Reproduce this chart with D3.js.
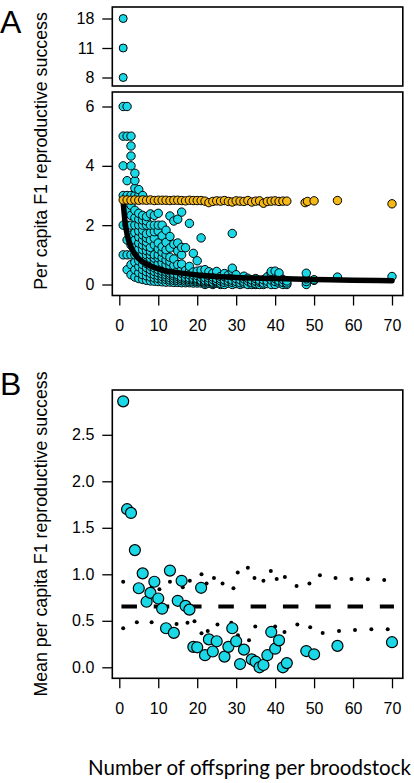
<!DOCTYPE html>
<html><head><meta charset="utf-8">
<script src="https://cdn.jsdelivr.net/npm/d3@7"></script>
<style>body{margin:0;background:#fff}svg{display:block}</style>
</head><body>
<svg id="c" width="414" height="783"></svg>
<script>
// ---------- DATA ----------
const xTicks = [0, 10, 20, 30, 40, 50, 60, 70];
const topTicks = [8, 11, 18];
const topX = [1, 1, 1];
const topY = [8, 11, 18];
const ticksA = [0, 2, 4, 6];
const ticksB = [0, 0.5, 1, 1.5, 2, 2.5];

// panel A cyan points: [offspring, list of per-capita success values]
const cyanA = [
  [1, [1, 2, 3, 4, 5, 6]],
  [2, [0.5, 1, 1.5, 2, 2.5, 3, 3.5, 5, 6]],
  [3, [0.33, 0.67, 1, 1.33, 1.67, 2, 2.33, 2.67, 3, 4, 4.33, 4.67, 5]],
  [4, [0.25, 0.5, 0.75, 1, 1.25, 1.5, 1.75, 2, 2.25, 2.5, 3, 3.25, 3.5, 3.75]],
  [5, [0.2, 0.4, 0.6, 0.8, 1, 1.2, 1.4, 1.6, 1.8, 2, 2.2, 2.4, 3, 3.2]],
  [6, [0.17, 0.33, 0.5, 0.67, 0.83, 1, 1.17, 1.33, 1.5, 1.67, 1.83, 2, 2.17, 2.33, 3]],
  [7, [0.14, 0.29, 0.43, 0.57, 0.71, 0.86, 1, 1.14, 1.29, 1.43, 1.57, 1.71, 2, 2.14, 2.29]],
  [8, [0.12, 0.25, 0.38, 0.5, 0.62, 0.75, 0.88, 1, 1.12, 1.25, 1.5, 1.75, 2, 2.38]],
  [9, [0.11, 0.22, 0.33, 0.44, 0.56, 0.67, 0.78, 0.89, 1, 1.33, 1.56, 1.78, 2, 2.33]],
  [10, [0.1, 0.2, 0.3, 0.4, 0.5, 0.6, 0.7, 0.9, 1, 1.2, 1.4, 1.8, 2, 2.4]],
  [11, [0.09, 0.18, 0.27, 0.36, 0.45, 0.55, 0.73, 0.91, 1.09, 1.27, 1.64, 2]],
  [12, [0.08, 0.17, 0.25, 0.33, 0.42, 0.5, 0.67, 0.83, 1, 1.17, 1.42, 1.83]],
  [13, [0.08, 0.15, 0.23, 0.31, 0.38, 0.46, 0.62, 0.77, 0.92, 1.23, 1.62, 2.31]],
  [14, [0.07, 0.14, 0.21, 0.29, 0.36, 0.5, 0.64, 0.86, 1.36, 2.14]],
  [15, [0.07, 0.13, 0.2, 0.27, 0.33, 0.47, 0.67, 1.13, 1.4, 2.2]],
  [16, [0.06, 0.13, 0.19, 0.25, 0.38, 0.5, 0.69, 1, 1.25, 2.44]],
  [17, [0.06, 0.12, 0.18, 0.24, 0.35, 0.47, 1.24]],
  [18, [0.06, 0.11, 0.17, 0.22, 0.33, 0.44, 0.61, 2.06]],
  [19, [0.05, 0.11, 0.16, 0.21, 0.32, 0.42, 1.05]],
  [20, [0.05, 0.1, 0.15, 0.2, 0.3, 0.45, 0.8]],
  [21, [0.05, 0.1, 0.14, 0.24, 0.33, 0.48, 1.57]],
  [22, [0, 0.05, 0.09, 0.14, 0.23, 0.36, 0.5]],
  [23, [0.04, 0.09, 0.13, 0.22, 0.3, 0.43]],
  [24, [0, 0.04, 0.08, 0.17, 0.25, 0.38]],
  [25, [0.04, 0.08, 0.12, 0.2, 0.32, 0.44]],
  [26, [0, 0.04, 0.12, 0.19, 0.27]],
  [27, [0, 0.07, 0.15, 0.26, 0.37]],
  [28, [0.04, 0.11, 0.21, 0.32]],
  [29, [0, 0.07, 0.14, 0.28, 0.45, 0.55, 1.72]],
  [30, [0.03, 0.1, 0.2, 0.33]],
  [31, [0, 0.06, 0.16]],
  [32, [0.03, 0.09, 0.19, 0.28]],
  [33, [0, 0.12, 0.21]],
  [34, [0, 0.06, 0.15]],
  [35, [0, 0.03, 0.11, 0.2]],
  [36, [0, 0.08, 0.14]],
  [37, [0, 0.05, 0.16]],
  [38, [0.03, 0.11, 0.26]],
  [39, [0, 0.15, 0.38, 0.44]],
  [40, [0, 0.1, 0.2, 0.45]],
  [41, [0.05, 0.12, 0.29, 0.39]],
  [42, [0, 0.07, 0.17]],
  [43, [0, 0.05, 0.12]],
  [48, [0, 0.1, 0.19, 0.38]],
  [50, [0.14, 0.16]],
  [56, [0.25]],
  [70, [0.27]]
];

// panel A orange points (expected under random reproduction)
const orangeX = [1,2,3,4,5,6,7,8,9,10,11,12,13,14,15,16,17,18,19,20,21,22,23,24,25,26,27,28,29,30,31,32,33,34,35,36,37,38,39,40,41,42,43,47.7,48.3,50,56,70];
const orangeY = [2.85,2.85,2.84,2.85,2.84,2.85,2.84,2.85,2.83,2.84,2.84,2.84,2.83,2.84,2.84,2.83,2.82,2.84,2.83,2.83,2.83,2.81,2.76,2.80,2.82,2.81,2.83,2.80,2.78,2.82,2.81,2.80,2.83,2.78,2.81,2.82,2.74,2.80,2.81,2.82,2.80,2.81,2.81,2.76,2.80,2.82,2.83,2.72];

// panel A fitted curve
const curveX = [1, 1.5, 2, 3, 4, 5, 6, 8, 10, 12, 15, 20, 25, 30, 40, 50, 60, 70];
const curveY = [2.78, 2.08, 1.69, 1.26, 1.02, 0.87, 0.77, 0.62, 0.53, 0.46, 0.40, 0.32, 0.27, 0.24, 0.20, 0.17, 0.145, 0.13];

// panel B means
const meanX = [1,2,3,4,5,6,7,8,9,10,11,12,13,14,15,16,17,18,19,20,21,22,23,24,25,27,28,29,30,31,32,34,35,36,37,38,39,40,41,42,43,48,50,56,70];
const meanY = [2.86,1.70,1.66,1.26,0.85,1.01,0.705,0.80,0.92,0.74,0.63,0.42,1.04,0.37,0.715,0.93,0.66,0.62,0.22,0.215,0.855,0.13,0.30,0.17,0.28,0.115,0.22,0.42,0.28,0.035,0.19,0.085,0.06,0.0,0.025,0.13,0.38,0.20,0.29,0.0,0.045,0.175,0.14,0.23,0.27];

// panel B null envelope (upper & lower)
const upperX = [1,4.5,8.3,10.3,13,16.3,18.1,21.1,22.4,24.3,26.5,29.3,30.4,33,34.7,37,38.9,40.4,42.5,45.5,48.8,51.5,55.5,59.6,63.8,68];
const upperY = [0.92,0.84,0.86,0.84,0.92,0.86,0.93,1.0,0.90,0.96,0.90,0.85,1.02,1.07,0.96,0.93,1.035,0.95,0.97,0.875,0.90,0.99,0.96,0.95,0.946,0.94];
const lowerX = [1,4.5,8.3,11.7,14.7,17.5,19.3,21.1,22.7,25.2,28.75,30.45,33.3,34.9,40,42.4,45.7,49,52.2,56.4,60.5,64.7,68.9];
const lowerY = [0.42,0.485,0.485,0.455,0.465,0.48,0.495,0.365,0.39,0.46,0.48,0.345,0.29,0.44,0.44,0.38,0.46,0.43,0.37,0.39,0.40,0.41,0.41];
const nullMean = 0.655;
const nullRange = [0.55, 70.5];

// ---------- DRAW ----------
const svg = d3.select("#c");
const CYAN = "#1ad8e6", ORANGE = "#f6b816";
const tickFont = "Liberation Sans";
const L = 112.3, R = 402.8;
const x = d3.scaleLinear().domain([0, 70]).range([119.3, 392]);

function box(y0, y1) {
  svg.append("rect").attr("x", L).attr("y", y0).attr("width", R - L).attr("height", y1 - y0)
    .attr("fill", "none").attr("stroke", "#000").attr("stroke-width", 1.6);
}
function styleAxis(g) {
  g.attr("font-family", tickFont).attr("font-size", 16);
  g.select(".domain").remove();
  g.selectAll("line").attr("stroke", "#000").attr("stroke-width", 1.3);
  g.selectAll("text").style("font-family", tickFont).style("font-size", "16px").attr("fill", "#000");
}

// Panel A top (large values)
const topBox = [7, 86];
const yTop = d3.scalePoint().domain(topTicks).range([77.5, 18.5]);
box(topBox[0], topBox[1]);
svg.append("g").attr("transform", `translate(${L},0)`)
  .call(d3.axisLeft(yTop).tickSize(10).tickPadding(8)).call(styleAxis);
svg.append("g").selectAll("circle").data(topY).join("circle")
  .attr("cx", (d, i) => x(topX[i])).attr("cy", d => yTop(d)).attr("r", 4)
  .attr("fill", CYAN).attr("stroke", "#000").attr("stroke-width", 1);

// Panel A main
const mainBox = [92, 295.5];
const yA = d3.scaleLinear().domain([0, 6]).range([284.5, 106.5]);
box(mainBox[0], mainBox[1]);
svg.append("g").attr("transform", `translate(${L},0)`)
  .call(d3.axisLeft(yA).tickValues(ticksA).tickFormat(d3.format("d")).tickSize(10).tickPadding(8)).call(styleAxis);
svg.append("g").attr("transform", `translate(0,${mainBox[1]})`)
  .call(d3.axisBottom(x).tickValues(xTicks).tickFormat(d3.format("d")).tickSize(10).tickPadding(14)).call(styleAxis);

const ptsA = cyanA.flatMap(([xv, ys]) => ys.map(y => ({x: xv, y})));
svg.append("g").selectAll("circle").data(ptsA).join("circle")
  .attr("cx", d => x(d.x)).attr("cy", d => yA(d.y)).attr("r", 4.2)
  .attr("fill", CYAN).attr("stroke", "#000").attr("stroke-width", 1);

svg.append("path").datum(curveX.map((v, i) => [v, curveY[i]]))
  .attr("d", d3.line().x(d => x(d[0])).y(d => yA(d[1])).curve(d3.curveMonotoneX))
  .attr("fill", "none").attr("stroke", "#000").attr("stroke-width", 5.5).attr("stroke-linecap", "round");

svg.append("g").selectAll("circle").data(orangeX).join("circle")
  .attr("cx", d => x(d)).attr("cy", (d, i) => yA(orangeY[i])).attr("r", 4.2)
  .attr("fill", ORANGE).attr("stroke", "#000").attr("stroke-width", 1);

// Panel B
const bBox = [390, 678.3];
const yB = d3.scaleLinear().domain([0, 2.5]).range([667.3, 434.8]);
box(bBox[0], bBox[1]);
svg.append("g").attr("transform", `translate(${L},0)`)
  .call(d3.axisLeft(yB).tickValues(ticksB).tickFormat(d3.format(".1f")).tickSize(10).tickPadding(8)).call(styleAxis);
svg.append("g").attr("transform", `translate(0,${bBox[1]})`)
  .call(d3.axisBottom(x).tickValues(xTicks).tickFormat(d3.format("d")).tickSize(10).tickPadding(14)).call(styleAxis);

svg.append("g").selectAll("circle").data(upperX).join("circle")
  .attr("cx", d => x(d)).attr("cy", (d, i) => yB(upperY[i])).attr("r", 2).attr("fill", "#000");
svg.append("g").selectAll("circle").data(lowerX).join("circle")
  .attr("cx", d => x(d)).attr("cy", (d, i) => yB(lowerY[i])).attr("r", 2).attr("fill", "#000");
svg.append("line").attr("x1", x(nullRange[0])).attr("x2", x(nullRange[1]))
  .attr("y1", yB(nullMean)).attr("y2", yB(nullMean))
  .attr("stroke", "#000").attr("stroke-width", 4).attr("stroke-dasharray", "15.5,16.8");
svg.append("g").selectAll("circle").data(meanX).join("circle")
  .attr("cx", d => x(d)).attr("cy", (d, i) => yB(meanY[i])).attr("r", 5.5)
  .attr("fill", CYAN).attr("stroke", "#000").attr("stroke-width", 1.2);

// Titles
function fitText(sel, target) {
  const w = sel.node().getComputedTextLength();
  const fs = parseFloat(sel.style("font-size"));
  sel.style("font-size", (fs * target / w) + "px");
}
const tA = svg.append("text").attr("transform", `translate(47,151) rotate(-90)`).attr("text-anchor", "middle")
  .style("font-family", tickFont).style("font-size", "16px").text("Per capita F1 reproductive success");
fitText(tA, 278);
const tB = svg.append("text").attr("transform", `translate(47,534) rotate(-90)`).attr("text-anchor", "middle")
  .style("font-family", tickFont).style("font-size", tA.style("font-size")).text("Mean per capita F1 reproductive success");
svg.append("text").attr("x", 0).attr("y", 33).style("font-family", tickFont).style("font-size", "32px").text("A");
svg.append("text").attr("x", 0).attr("y", 395).style("font-family", tickFont).style("font-size", "32px").text("B");

const xt = svg.append("text").attr("x", 249.5).attr("y", 775).attr("text-anchor", "middle")
  .style("font-family", "Lato").style("font-size", "19px").text("Number of offspring per broodstock");
fitText(xt, 323);
</script>
</body></html>
